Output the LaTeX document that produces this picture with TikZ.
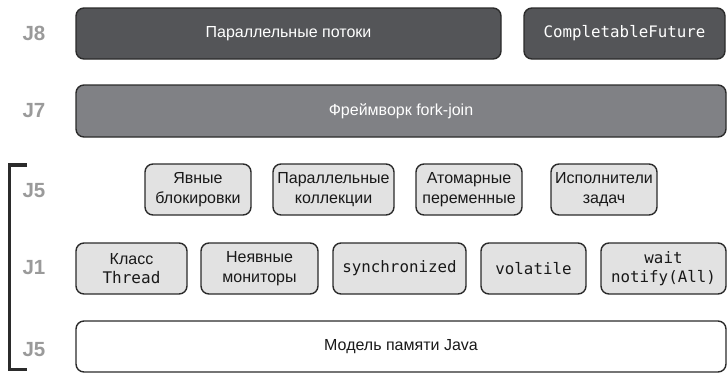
\documentclass[tikz,border=0pt]{standalone}
\usepackage{fontspec}
\setmainfont{Liberation Sans}
\setmonofont{DejaVu Sans Mono}
\usetikzlibrary{positioning}

\definecolor{jdark}{HTML}{545558}
\definecolor{jmid}{HTML}{808185}
\definecolor{jlight}{HTML}{E2E2E2}
\definecolor{jline}{HTML}{2B2B2B}
\definecolor{jlabel}{HTML}{9A9A9A}

\begin{document}
\begin{tikzpicture}[x=1pt, y=-1pt,
    box/.style={rectangle, rounded corners=8pt, draw=jline, line width=1.4pt,
        inner sep=0pt, minimum height=51pt, align=center,
        font=\fontsize{16}{19.5}\selectfont},
    darkbox/.style={box, fill=jdark, text=white},
    midbox/.style={box, fill=jmid, text=white},
    lightbox/.style={box, fill=jlight, text=black!90},
    basebox/.style={box, fill=white, text=black!90},
    code/.style={font=\fontsize{15.8}{19}\selectfont\ttfamily},
    ver/.style={font=\fontsize{20.5}{20}\selectfont\bfseries, text=jlabel},
]
\useasboundingbox (0,0) rectangle (728,373);

% Version labels
\node[ver] (v8) at (34,33) {J8};
\node[ver] (v7) at (34,111) {J7};
\node[ver] (v5a) at (34,191) {J5};
\node[ver] (v1) at (34,268) {J1};
\node[ver] (v5b) at (34,350) {J5};

% Bracket
\draw[line width=3.8pt, jline] (27,165) -- (9.5,165) -- (9.5,369.5) -- (27,369.5);

% J8
\node[darkbox, minimum width=425pt] (streams) at (288.5,33.5) {Параллельные потоки};
\node[darkbox, code, minimum width=201pt] (cfuture) at (624.5,33.5) {CompletableFuture};

% J7
\node[midbox, minimum width=650pt, minimum height=52pt] (forkjoin) at (401,111) {Фреймворк fork-join};

% J5 (java.util.concurrent)
\node[lightbox, minimum width=106pt] (locks) at (198,189.5) {Явные\\блокировки};
\node[lightbox, minimum width=121pt] (colls) at (333.5,189.5) {Параллельные\\коллекции};
\node[lightbox, minimum width=106pt] (atomics) at (469,189.5) {Атомарные\\переменные};
\node[lightbox, minimum width=106pt] (execs) at (604,189.5) {Исполнители\\задач};

% J1
\node[lightbox, minimum width=111pt] (thread) at (131.5,268.5) {Класс\\{\ttfamily Thread}};
\node[lightbox, minimum width=117pt] (monitors) at (259.5,268.5) {Неявные\\мониторы};
\node[lightbox, code, minimum width=133pt] (sync) at (399.5,268.5) {synchronized};
\node[lightbox, code, minimum width=105pt] (volat) at (533.5,268.5) {volatile};
\node[lightbox, code, minimum width=125pt] (waitn) at (663.5,268.5) {wait\\notify(All)};

% Memory model
\node[basebox, minimum width=650pt] (jmm) at (401,346.5) {Модель памяти Java};
\end{tikzpicture}
\end{document}
